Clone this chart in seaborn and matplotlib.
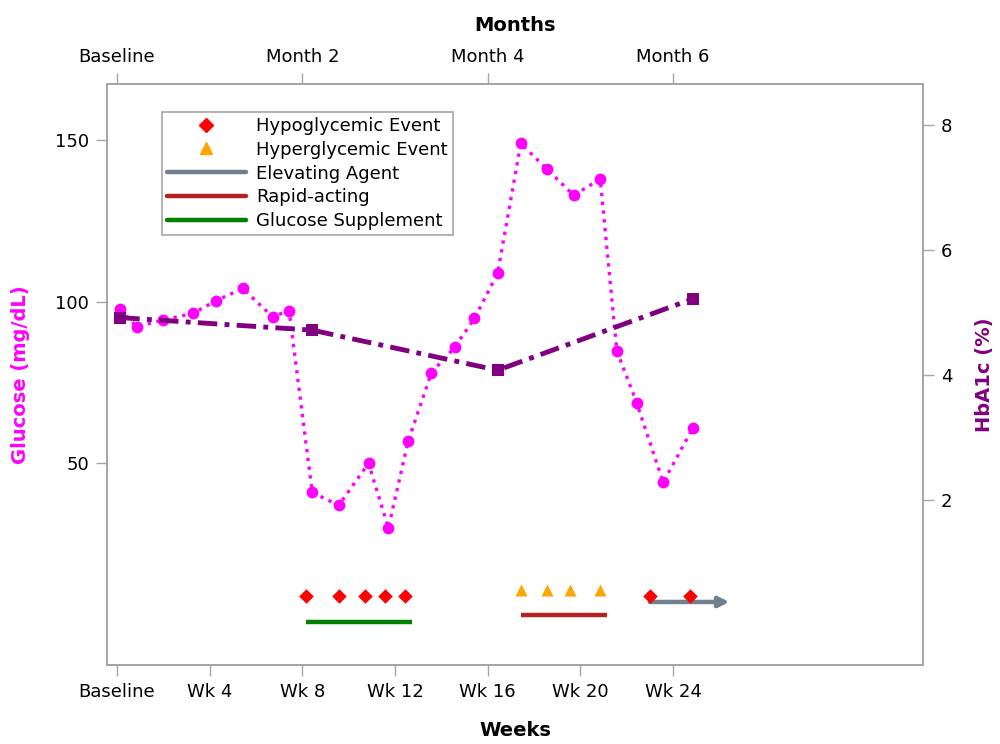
import matplotlib
matplotlib.use("Agg")
import matplotlib.pyplot as plt
from matplotlib.lines import Line2D
import seaborn as sns
import pandas as pd

# ---- data (x in study days) ----
glucose_day = [1, 6, 14, 23, 30, 38, 47, 52, 59, 67, 76, 82, 88, 95, 102, 108,
               115, 122, 130, 138, 146, 151, 157, 165, 174]
glucose_val = [97.6, 92.2, 94.3, 96.4, 100.3, 104.1, 95.3, 97.2, 40.8, 36.8, 49.8,
               29.8, 56.8, 77.9, 85.8, 94.8, 108.8, 149.1, 141.0, 133.0, 138.0,
               84.8, 68.6, 43.9, 60.8]
hba1c_day = [1, 59, 115, 174]
hba1c_val = [4.92, 4.72, 4.08, 5.22]

hypo_day = [57, 67, 75, 81, 87, 161, 173]
hypo_y = [8.7] * len(hypo_day)
hyper_day = [122, 130, 137, 146]
hyper_y = [10.6] * len(hyper_day)

supplement_span = [57, 89]
supplement_y = 0.6
rapid_span = [122, 148]
rapid_y = 2.8
elevating_span = [161, 185]
elevating_y = 6.8

week_ticks = [0, 28, 56, 84, 112, 140, 168]
week_labels = ["Baseline", "Wk 4", "Wk 8", "Wk 12", "Wk 16", "Wk 20", "Wk 24"]
month_ticks = [0, 56, 112, 168]
month_labels = ["Baseline", "Month 2", "Month 4", "Month 6"]
glucose_ticks = [50, 100, 150]
hba1c_ticks = [2, 4, 6, 8]

MAGENTA = "#ff00ff"
PURPLE = "#800080"
FRAME = "#a6a6a6"

sns.set_theme(style="white")
plt.rcParams["font.family"] = ["DejaVu Sans"]
plt.rcParams["text.color"] = "black"
plt.rcParams["axes.labelcolor"] = "black"

fig = plt.figure(figsize=(10, 7.44), dpi=100)
ax = fig.add_axes([0.107, 0.106, 0.816, 0.781])

gdf = pd.DataFrame({"day": glucose_day, "glucose": glucose_val})
hdf = pd.DataFrame({"day": hba1c_day, "hba1c": hba1c_val})
hypo_df = pd.DataFrame({"day": hypo_day, "y": hypo_y})
hyper_df = pd.DataFrame({"day": hyper_day, "y": hyper_y})

sns.lineplot(data=gdf, x="day", y="glucose", ax=ax, color=MAGENTA, linestyle=":",
             linewidth=2.4, marker="o", markersize=8.5, markeredgewidth=0, zorder=3)
sns.scatterplot(data=hypo_df, x="day", y="y", ax=ax, color="#ff0000", marker="D",
                s=55, linewidth=0, zorder=4)
sns.scatterplot(data=hyper_df, x="day", y="y", ax=ax, color="#ffa500", marker="^",
                s=75, linewidth=0, zorder=4)
ax.plot(supplement_span, [supplement_y] * 2, color="#008000", lw=3.2,
        solid_capstyle="butt", zorder=3)
ax.plot(rapid_span, [rapid_y] * 2, color="#b22222", lw=3.2,
        solid_capstyle="butt", zorder=3)
ax.annotate("", xy=(elevating_span[1], elevating_y), xytext=(elevating_span[0], elevating_y),
            arrowprops=dict(arrowstyle="-|>", color="#708090", lw=3.2,
                            mutation_scale=15, shrinkA=0, shrinkB=0), zorder=3)

ax.set_xlim(-3, 243.5)
ax.set_ylim(-12.8, 167.5)
ax.set_xticks(week_ticks)
ax.set_xticklabels(week_labels)
ax.set_yticks(glucose_ticks)
ax.set_xlabel("Weeks", fontsize=14, fontweight="bold", labelpad=14, color="black")
ax.set_ylabel("Glucose (mg/dL)", fontsize=14, fontweight="bold", color=MAGENTA, labelpad=18)

ax2 = ax.twinx()
sns.lineplot(data=hdf, x="day", y="hba1c", ax=ax2, color=PURPLE, linestyle=(0, (4, 1.5, 1, 1.5)),
             linewidth=3.5, marker="s", markersize=8.5, markeredgewidth=0, zorder=3)
ax2.set_ylim(-0.63, 8.65)
ax2.set_yticks(hba1c_ticks)
ax2.set_ylabel("HbA1c (%)", fontsize=14, fontweight="bold", color=PURPLE, labelpad=16)

ax3 = ax.twiny()
ax3.set_xlim(ax.get_xlim())
ax3.set_xticks(month_ticks)
ax3.set_xticklabels(month_labels)
ax3.set_xlabel("Months", fontsize=14, fontweight="bold", labelpad=12, color="black")

for a in (ax, ax2, ax3):
    for sp in a.spines.values():
        sp.set_color(FRAME)
        sp.set_linewidth(1.2)
    a.tick_params(axis="both", which="both", length=8, width=1, color=FRAME,
                  labelsize=13, labelcolor="black", pad=5)
ax.tick_params(left=True, bottom=True)
ax2.tick_params(right=True)
ax3.tick_params(top=True)

handles = [
    Line2D([], [], color="#ff0000", marker="D", linestyle="none", markersize=7),
    Line2D([], [], color="#ffa500", marker="^", linestyle="none", markersize=8),
    Line2D([], [], color="#708090", lw=3.2),
    Line2D([], [], color="#b22222", lw=3.2),
    Line2D([], [], color="#008000", lw=3.2),
]
labels = ["Hypoglycemic Event", "Hyperglycemic Event", "Elevating Agent",
          "Rapid-acting", "Glucose Supplement"]
leg = ax3.legend(handles, labels, loc="upper left", bbox_to_anchor=(0.067, 0.952),
                 borderaxespad=0, fontsize=13, frameon=True, fancybox=False,
                 edgecolor=FRAME, framealpha=1, handlelength=4.4, handletextpad=0.55,
                 labelspacing=0.32, borderpad=0.28)
leg.get_frame().set_linewidth(1.2)
for t in leg.get_texts():
    t.set_color("black")

fig.savefig("out.png", dpi=100)
